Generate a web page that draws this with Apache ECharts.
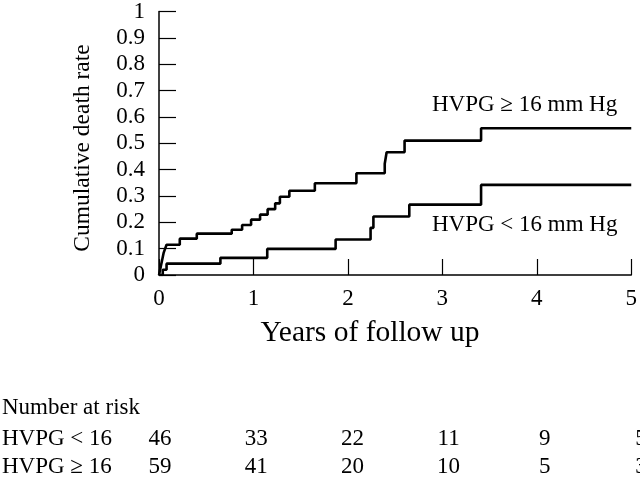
<!DOCTYPE html>
<html>
<head>
<meta charset="utf-8">
<script src="https://cdn.jsdelivr.net/npm/echarts@6/dist/echarts.min.js"></script>
<style>html,body{margin:0;padding:0;background:#fff}#c{width:640px;height:483px}</style>
</head>
<body>
<div id="c"></div>
<script>
// Data
var highT = [0, 0.01, 0.02, 0.03, 0.04, 0.05, 0.065, 0.08, 0.22, 0.40, 0.77, 0.88, 0.975, 1.07, 1.15, 1.23, 1.28, 1.38, 1.65, 2.09, 2.39, 2.41, 2.60, 3.41, 5];
var highV = [0, 0.017, 0.034, 0.051, 0.068, 0.085, 0.10, 0.115, 0.138, 0.157, 0.172, 0.19, 0.21, 0.229, 0.25, 0.272, 0.297, 0.32, 0.348, 0.386, 0.422, 0.466, 0.51, 0.557, 0.557];
var lowT = [0, 0.04, 0.08, 0.65, 1.146, 1.87, 2.24, 2.27, 2.65, 3.41, 5];
var lowV = [0, 0.02, 0.043, 0.065, 0.099, 0.135, 0.179, 0.222, 0.267, 0.342, 0.342];
var seriesNames = ['HVPG \u2265 16 mm Hg', 'HVPG < 16 mm Hg'];
var riskYears = [0, 1, 2, 3, 4, 5];
var riskRowLabels = ['HVPG < 16', 'HVPG \u2265 16'];
var riskLow = [46, 33, 22, 11, 9, 5];
var riskHigh = [59, 41, 20, 10, 5, 3];
var xTitle = 'Years of follow up';
var yTitle = 'Cumulative death rate';
var riskTitle = 'Number at risk';

var FONT = "'Liberation Serif','Times New Roman',serif";
var FS = 23;

function pairs(t, v) { return t.map(function (x, i) { return [x, v[i]]; }); }

var chart = echarts.init(document.getElementById('c'), null, { renderer: 'canvas' });
var axisStyle = { color: '#000', width: 1.5 };
var option = {
  animation: false,
  backgroundColor: '#fff',
  grid: { left: 159, right: 4, top: 9, bottom: 208, containLabel: false },
  xAxis: {
    type: 'value', min: 0, max: 5, interval: 1,
    axisLine: { show: true, lineStyle: axisStyle },
    axisTick: { show: true, inside: true, length: 16, lineStyle: { color: '#000', width: 1.2 } },
    axisLabel: { color: '#000', fontFamily: FONT, fontSize: FS, margin: 12 },
    splitLine: { show: false }
  },
  yAxis: {
    type: 'value', min: 0, max: 1, interval: 0.1,
    axisLine: { show: true, lineStyle: axisStyle },
    axisTick: { show: true, inside: true, length: 17, lineStyle: { color: '#000', width: 1.2 } },
    axisLabel: { color: '#000', fontFamily: FONT, fontSize: FS, margin: 14,
      formatter: function (v) { return String(Math.round(v * 10) / 10); } },
    splitLine: { show: false }
  },
  series: [
    { name: seriesNames[0], type: 'line', step: 'end', showSymbol: false, symbol: 'none',
      lineStyle: { color: '#000', width: 2.6 }, data: pairs(highT, highV), z: 5 },
    { name: seriesNames[1], type: 'line', step: 'end', showSymbol: false, symbol: 'none',
      lineStyle: { color: '#000', width: 2.6 }, data: pairs(lowT, lowV), z: 5 }
  ]
};
chart.setOption(option);

function px(x) { return chart.convertToPixel({ xAxisIndex: 0 }, x); }

var txt = function (text, x, y, align, size, extra) {
  var o = { type: 'text', x: x, y: y, silent: true,
    style: { text: text, font: (size || FS) + 'px ' + FONT, fill: '#000', align: align || 'left', verticalAlign: 'middle' } };
  if (extra) for (var k in extra) o[k] = extra[k];
  return o;
};

var g = [];
g.push(txt(seriesNames[0], 432, 105, 'left'));
g.push(txt(seriesNames[1], 432, 225, 'left'));
g.push(txt(xTitle, 370, 333, 'center', 29.5));
g.push(txt(yTitle, 83, 148, 'center', 23.5, { rotation: Math.PI / 2 }));
g.push(txt(riskTitle, 2, 408, 'left'));
var rowY = [439, 467];
var rows = [riskLow, riskHigh];
var colStep = 96.2; // table columns are spaced slightly wider than the axis ticks
for (var r = 0; r < 2; r++) {
  g.push(txt(riskRowLabels[r], 2, rowY[r], 'left'));
  for (var i = 0; i < riskYears.length; i++) {
    g.push(txt(String(rows[r][i]), px(riskYears[0]) + 1 + colStep * riskYears[i], rowY[r], 'center'));
  }
}
chart.setOption({ graphic: g });
</script>
</body>
</html>
